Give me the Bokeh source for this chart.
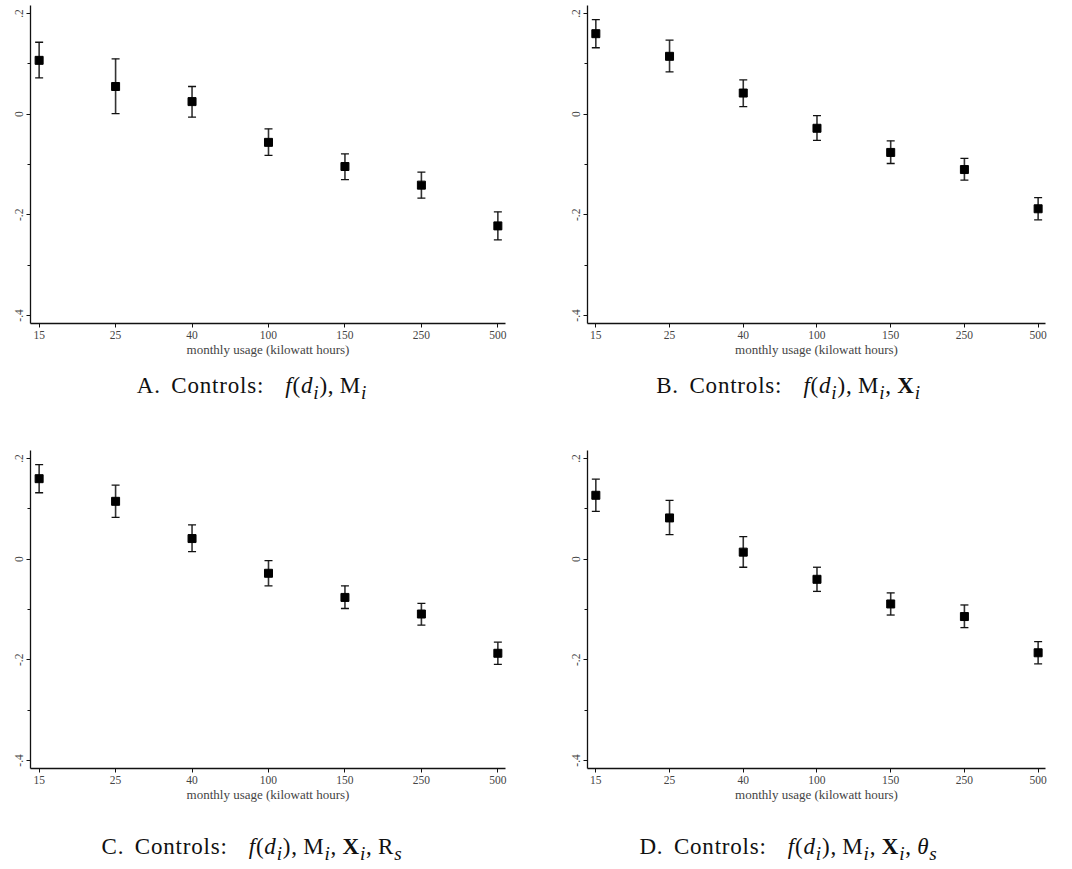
from bokeh.plotting import figure
from bokeh.models import ColumnDataSource, Whisker, TeeHead, Range1d, FixedTicker, Div
from bokeh.layouts import column, row
from bokeh.embed import file_html
from bokeh.resources import INLINE

# ---- data ----
usage = ["15", "25", "40", "100", "150", "250", "500"]

a_est = [0.107, 0.055, 0.025, -0.056, -0.104, -0.141, -0.222]
a_lo = [0.072, 0.001, -0.006, -0.082, -0.130, -0.167, -0.250]
a_hi = [0.143, 0.110, 0.055, -0.029, -0.079, -0.115, -0.194]

b_est = [0.160, 0.115, 0.042, -0.028, -0.076, -0.110, -0.188]
b_lo = [0.132, 0.084, 0.015, -0.052, -0.098, -0.131, -0.210]
b_hi = [0.188, 0.147, 0.068, -0.003, -0.053, -0.088, -0.166]

c_est = [0.160, 0.115, 0.041, -0.028, -0.076, -0.109, -0.187]
c_lo = [0.132, 0.083, 0.015, -0.053, -0.098, -0.131, -0.209]
c_hi = [0.188, 0.147, 0.068, -0.003, -0.053, -0.088, -0.165]

d_est = [0.127, 0.082, 0.014, -0.040, -0.089, -0.114, -0.186]
d_lo = [0.095, 0.049, -0.016, -0.064, -0.111, -0.136, -0.208]
d_hi = [0.159, 0.117, 0.045, -0.016, -0.067, -0.091, -0.164]

y_ticks = [-0.4, -0.2, 0.0, 0.2]
y_minor = [-0.3, -0.1, 0.1]
y_labels = {-0.4: "-.4", -0.2: "-.2", 0.0: "0", 0.2: ".2"}
x_title = "monthly usage (kilowatt hours)"

captions = [
    "A. Controls:&nbsp; <i>f</i>(<i>d<sub>i</sub></i>),&thinsp;M<sub><i>i</i></sub>",
    "B. Controls:&nbsp; <i>f</i>(<i>d<sub>i</sub></i>),&thinsp;M<sub><i>i</i></sub>,&thinsp;<b>X</b><sub><i>i</i></sub>",
    "C. Controls:&nbsp; <i>f</i>(<i>d<sub>i</sub></i>),&thinsp;M<sub><i>i</i></sub>,&thinsp;<b>X</b><sub><i>i</i></sub>,&thinsp;R<sub><i>s</i></sub>",
    "D. Controls:&nbsp; <i>f</i>(<i>d<sub>i</sub></i>),&thinsp;M<sub><i>i</i></sub>,&thinsp;<b>X</b><sub><i>i</i></sub>,&thinsp;<i>&theta;<sub>s</sub></i>",
]

SERIF = "Liberation Serif"
INK = "#111111"


def panel(est, lo, hi, left, fw, right, top):
    xs = list(range(len(usage)))
    src = ColumnDataSource(dict(x=xs, est=est, lo=lo, hi=hi))
    fh = 318
    bottom = 36
    p = figure(width=left + fw + right, height=top + fh + bottom,
               x_range=Range1d(-0.113, 6.1), y_range=Range1d(-0.416, 0.216),
               output_backend="svg", toolbar_location=None,
               min_border_left=left, min_border_right=right,
               min_border_top=top, min_border_bottom=bottom)
    p.outline_line_color = None
    p.xgrid.visible = False
    p.ygrid.visible = False
    p.background_fill_color = "white"
    p.border_fill_color = "white"

    w = Whisker(base="x", upper="hi", lower="lo", source=src,
                line_color="#333333", line_width=1.6,
                upper_head=TeeHead(size=8, line_color=INK, line_width=1.3),
                lower_head=TeeHead(size=8, line_color=INK, line_width=1.3))
    p.add_layout(w)
    p.scatter("x", "est", source=src, marker="square", size=8,
              fill_color="black", line_color="black")

    # x axis
    xa = p.xaxis[0]
    xa.ticker = FixedTicker(ticks=xs)
    xa.major_label_overrides = {i: lab for i, lab in enumerate(usage)}
    xa.axis_label = x_title
    xa.axis_label_text_font = SERIF
    xa.axis_label_text_font_style = "normal"
    xa.axis_label_text_font_size = "13px"
    xa.axis_label_standoff = 0
    xa.major_label_text_font = SERIF
    xa.major_label_text_font_size = "11.5px"
    xa.major_label_standoff = 3
    xa.major_tick_out = 4
    xa.major_tick_in = 0
    xa.minor_tick_out = 0
    xa.axis_line_color = INK
    xa.axis_line_width = 1.3
    xa.major_tick_line_color = INK

    # y axis
    ya = p.yaxis[0]
    ya.ticker = FixedTicker(ticks=y_ticks, minor_ticks=y_minor)
    ya.major_label_overrides = y_labels
    ya.major_label_orientation = "vertical"
    ya.major_label_text_font = SERIF
    ya.major_label_text_font_size = "11.5px"
    ya.major_label_standoff = 3
    ya.major_tick_out = 4
    ya.major_tick_in = 0
    ya.minor_tick_out = 3
    ya.minor_tick_in = 0
    ya.axis_line_color = INK
    ya.axis_line_width = 1.3
    ya.major_tick_line_color = INK
    ya.minor_tick_line_color = INK
    return p


def caption(html, width, height, pad_top, pad_right=0):
    return Div(text=(f'<div style="font-family:\'{SERIF}\',serif;font-size:23px;'
                     f'color:#111;text-align:center;width:{width - pad_right}px;'
                     f'padding-top:{pad_top}px;line-height:24px;white-space:nowrap;'
                     f'letter-spacing:0.8px;word-spacing:4px">'
                     f'{html}</div>'),
               width=width, height=height, margin=0)


pA = panel(a_est, a_lo, a_hi, 30, 475, 15, 5)
pB = panel(b_est, b_lo, b_hi, 67, 458, 12, 5)
pC = panel(c_est, c_lo, c_hi, 30, 475, 15, 10)
pD = panel(d_est, d_lo, d_hi, 67, 458, 12, 10)

capA = caption(captions[0], 520, 81, 15, 16)
capB = caption(captions[1], 537, 81, 15, 0)
capC = caption(captions[2], 520, 60, 31, 16)
capD = caption(captions[3], 537, 60, 31, 0)

layout = column(row(pA, pB, spacing=0), row(capA, capB, spacing=0),
                row(pC, pD, spacing=0), row(capC, capD, spacing=0), spacing=0)

open("out.html", "w").write(file_html(layout, INLINE))
